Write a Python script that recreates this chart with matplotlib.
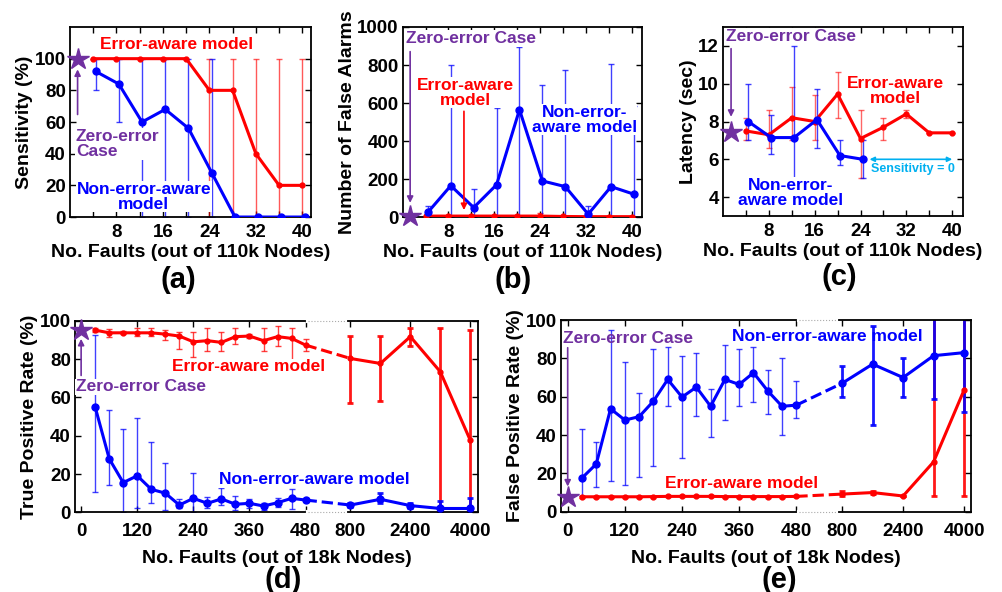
import numpy as np
import matplotlib.pyplot as plt

plt.rcParams['font.family'] = ['Liberation Sans', 'DejaVu Sans']
plt.rcParams['font.weight'] = 'bold'
plt.rcParams['axes.labelweight'] = 'bold'

RED = '#ff0000'
BLUE = '#0000ff'
PURPLE = '#7030a0'
CYAN = '#00b0f0'

# ---- 110k node runs (a)-(c) ----
faults_110k = [4, 8, 12, 16, 20, 24, 28, 32, 36, 40]

sens_aware = [100, 100, 100, 100, 100, 80, 80, 40, 20, 20]
sens_aware_lo = [100, 100, 100, 100, 100, 0, 0, 0, 0, 0]
sens_aware_hi = [100, 100, 100, 100, 100, 100, 100, 100, 100, 100]
sens_naive = [92, 84, 60, 68, 56, 28, 0, 0, 0, 0]
sens_naive_lo = [80, 60, 0, 0, 0, 0, 0, 0, 0, 0]
sens_naive_hi = [100, 100, 100, 100, 100, 100, 0, 0, 0, 0]

fa_aware = [5, 5, 5, 5, 5, 5, 3, 2, 2, 2]
fa_aware_lo = [0, 0, 0, 0, 0, 0, 0, 0, 0, 0]
fa_aware_hi = [8, 8, 8, 8, 8, 20, 5, 3, 3, 3]
fa_naive = [25, 165, 50, 170, 565, 190, 160, 15, 160, 120]
fa_naive_lo = [0, 0, 0, 0, 0, 0, 0, 0, 0, 0]
fa_naive_hi = [60, 800, 145, 575, 895, 695, 775, 60, 805, 585]

lat_aware = [7.5, 7.3, 8.2, 8.0, 9.45, 7.1, 7.7, 8.4, 7.4, 7.4]
lat_aware_lo = [7.0, 6.6, 7.0, 7.0, 8.2, 5.0, 7.0, 8.2, 7.4, 7.4]
lat_aware_hi = [8.2, 8.6, 9.8, 9.4, 10.6, 8.6, 8.2, 8.6, 7.4, 7.4]
faults_lat_naive = [4, 8, 12, 16, 20, 24]
lat_naive = [8.0, 7.15, 7.15, 8.1, 6.2, 6.0]
lat_naive_lo = [7.0, 6.3, 5.0, 6.6, 5.7, 5.0]
lat_naive_hi = [10.0, 8.35, 12.0, 9.7, 7.0, 7.0]
lat_zero = 7.45

# ---- 18k node runs (d)-(e) ----
faults_18k = [30, 60, 90, 120, 150, 180, 210, 240, 270, 300, 330, 360, 390,
              420, 450, 480, 800, 1600, 2400, 3200, 4000]

tpr_aware = [95.1, 93.7, 93.7, 93.7, 93.7, 93, 92, 89, 89.6, 88.7, 91.7, 92,
             89.6, 91.7, 90.8, 87.3, 80.3, 77.7, 91.7, 73.4, 37.7]
tpr_aware_lo = [94, 91.5, 93, 92, 92, 90, 85, 81, 84, 84, 88, 91, 84, 87,
                78, 84, 57, 58, 87, 0, 0]
tpr_aware_hi = [96, 95.5, 94.5, 96, 96, 95, 94, 94, 96, 94, 96, 93, 96, 97,
                96, 90.5, 92, 92, 96, 96, 95]
tpr_naive = [55, 28, 15.5, 19.1, 12, 10, 3.8, 7.3, 4.7, 7, 4.2, 4.7, 3.3, 5,
             7.3, 6.4, 3.8, 6.8, 3.5, 2, 2]
tpr_naive_lo = [10.7, 14, 0, 2, 5, 1, 2, 0, 2, 4, 1, 2, 1, 3, 1.5, 5.5, 3,
                5, 2, 0, 0]
tpr_naive_hi = [92.5, 53.5, 43.5, 49, 36.5, 26, 7, 20.5, 8, 12.5, 8.5, 7, 5,
                7.5, 12, 7.5, 5, 10, 5, 6, 7.5]
tpr_zero = 95

fpr_aware = [7.8, 7.8, 7.8, 7.8, 7.8, 7.9, 8, 8, 8, 8, 7.9, 7.9, 7.9, 7.9,
             7.9, 8, 9.2, 10, 8.2, 26, 63.5]
fpr_aware_lo = [7.3, 7.3, 7.3, 7.3, 7.3, 7.4, 7.5, 7.5, 7.5, 7.5, 7.4, 7.4,
                7.4, 7.4, 7.4, 7.5, 8, 9, 8, 8, 8]
fpr_aware_hi = [8.3, 8.3, 8.3, 8.3, 8.3, 8.4, 8.5, 8.5, 8.5, 8.5, 8.4, 8.4,
                8.4, 8.4, 8.4, 8.5, 11, 11, 8.4, 110, 110]
fpr_naive = [17.6, 24.9, 53.7, 47.8, 49.6, 57.7, 69, 59.8, 65, 55, 69, 66.4,
             72.5, 63, 55, 55.6, 67, 77, 70, 81.4, 83]
fpr_naive_lo = [8, 13, 16, 14, 18, 24, 55, 28, 50, 39, 48, 55, 57, 51, 40,
                49, 60, 45, 60, 59, 52]
fpr_naive_hi = [43, 36.5, 95, 78, 62, 85, 86, 81, 83, 64, 87, 85, 86, 74, 80,
                68, 76, 97, 80, 110, 110]
fpr_zero = 7.5

# broken x axis: linear up to 480, then 800..4000 squeezed
brk_x = [-1000, 0, 480, 800, 4000, 8000]
brk_p = [-1000, 0, 480, 576, 832, 1152]

TICK_FS = 13.5
LABEL_FS = 14
NOTE_FS = 12.5


def fwd(x):
    return np.interp(x, brk_x, brk_p)


def inv(p):
    return np.interp(p, brk_p, brk_x)


def bars(ax, x, y, lo, hi, color, lw=1.0, cap=2.5, alpha=0.75):
    y = np.asarray(y, float)
    err = [y - np.asarray(lo, float), np.asarray(hi, float) - y]
    ax.errorbar(x, y, yerr=err, fmt='none', ecolor=color, elinewidth=lw,
                capsize=cap, capthick=lw, alpha=alpha, zorder=2)


def style(ax, xpad=4):
    ax.tick_params(direction='in', length=4, width=1, top=True, right=True,
                   labelsize=TICK_FS, pad=3)
    ax.tick_params(axis='x', pad=xpad)
    for s in ax.spines.values():
        s.set_linewidth(1.3)
    for lab in ax.get_xticklabels() + ax.get_yticklabels():
        lab.set_fontweight('bold')


def star(ax, x, y):
    ax.plot([x], [y], marker='*', ms=16, color=PURPLE, mec=PURPLE,
            clip_on=False, zorder=5)


def arrow(ax, x0, y0, x1, y1, color):
    ax.annotate('', xy=(x1, y1), xytext=(x0, y0),
                arrowprops=dict(arrowstyle='-|>', color=color, lw=1.2,
                                mutation_scale=9), zorder=4)


def label(ax, x, y, s, color, ha='center', box=True, size=NOTE_FS):
    kw = dict(color=color, ha=ha, va='center', fontsize=size,
              fontweight='bold', linespacing=1.0, zorder=6)
    if box:
        kw['bbox'] = dict(facecolor='white', edgecolor='none', pad=0.5)
    ax.text(x, y, s, **kw)


fig = plt.figure(figsize=(10.02, 5.92), dpi=100)

ax_a = fig.add_axes([0.0699, 0.6334, 0.2405, 0.321])
ax_b = fig.add_axes([0.4019, 0.6334, 0.2388, 0.321])
ax_c = fig.add_axes([0.7216, 0.6351, 0.2395, 0.3193])
ax_d = fig.add_axes([0.0749, 0.1346, 0.4022, 0.3236])
ax_e = fig.add_axes([0.5599, 0.1356, 0.4089, 0.3238])

xa = np.array(faults_110k)
off = 0.4

# (a) sensitivity
ax = ax_a
bars(ax, xa, sens_aware, sens_aware_lo, sens_aware_hi, RED, alpha=0.65)
bars(ax, xa + off, sens_naive, sens_naive_lo, sens_naive_hi, BLUE)
ax.plot(xa, sens_aware, '-o', color=RED, lw=2.2, ms=3.5, zorder=3)
ax.plot(xa + off, sens_naive, '-o', color=BLUE, lw=2.2, ms=5, zorder=3)
star(ax, 1.3, 100)
arrow(ax, 1.3, 63, 1.3, 95, PURPLE)
label(ax, 18.4, 108.7, 'Error-aware model', RED)
label(ax, 1.0, 46, 'Zero-error\nCase', PURPLE, ha='left')
label(ax, 12.7, 12.8, 'Non-error-aware\nmodel', BLUE)
ax.set_xlim(0, 41.5)
ax.set_ylim(0, 120)
ax.set_yticks([0, 20, 40, 60, 80, 100])
ax.set_ylabel('Sensitivity (%)', fontsize=LABEL_FS, labelpad=1)

# (b) false alarms
ax = ax_b
bars(ax, xa, fa_aware, fa_aware_lo, fa_aware_hi, RED)
bars(ax, xa + off, fa_naive, fa_naive_lo, fa_naive_hi, BLUE)
ax.plot(xa, fa_aware, '-o', color=RED, lw=2.2, ms=3.5, zorder=3)
ax.plot(xa + off, fa_naive, '-o', color=BLUE, lw=2.2, ms=5, zorder=3)
star(ax, 1.3, 5)
arrow(ax, 1.3, 885, 1.3, 60, PURPLE)
arrow(ax, 10.7, 571, 10.7, 22, RED)
label(ax, 0.6, 939, 'Zero-error Case', PURPLE, ha='left')
label(ax, 10.9, 655, 'Error-aware\nmodel', RED)
label(ax, 31.7, 513, 'Non-error-\naware model', BLUE)
ax.set_xlim(0, 41.8)
ax.set_ylim(0, 1000)
ax.set_yticks([0, 200, 400, 600, 800, 1000])
ax.set_ylabel('Number of False Alarms', fontsize=LABEL_FS, labelpad=1)

# (c) latency
ax = ax_c
xl = np.array(faults_lat_naive)
bars(ax, xa, lat_aware, lat_aware_lo, lat_aware_hi, RED, alpha=0.6)
bars(ax, xl + off, lat_naive, lat_naive_lo, lat_naive_hi, BLUE)
ax.plot(xa, lat_aware, '-o', color=RED, lw=2.2, ms=3.5, zorder=3)
ax.plot(xl + off, lat_naive, '-o', color=BLUE, lw=2.2, ms=5, zorder=3)
star(ax, 1.4, lat_zero)
arrow(ax, 1.4, 12.0, 1.4, 8.1, PURPLE)
ax.annotate('', xy=(40.5, 6.0), xytext=(25.1, 6.0),
            arrowprops=dict(arrowstyle='<|-|>', color=CYAN, lw=1.2,
                            mutation_scale=7))
label(ax, 33.2, 5.5, 'Sensitivity = 0', CYAN, box=False, size=9)
label(ax, 0.6, 12.5, 'Zero-error Case', PURPLE, ha='left')
label(ax, 30.1, 9.6, 'Error-aware\nmodel', RED)
label(ax, 11.8, 4.22, 'Non-error-\naware model', BLUE)
ax.set_xlim(0, 41.9)
ax.set_ylim(3, 13)
ax.set_yticks([4, 6, 8, 10, 12])
ax.set_ylabel('Latency (sec)', fontsize=LABEL_FS, labelpad=1)

for ax in (ax_a, ax_b, ax_c):
    ax.set_xticks(faults_110k)
    ax.set_xticklabels([str(v) if v % 8 == 0 else '' for v in faults_110k])
    ax.set_xlabel('No. Faults (out of 110k Nodes)', fontsize=LABEL_FS,
                  labelpad=2)
    style(ax, xpad=5)

# (d)/(e) with the broken axis
xs = np.array(faults_18k)
n_lin = 16


def broken_series(ax, y, lo, hi, color, ms, dx=0.0):
    y = np.asarray(y, float)
    lo = np.asarray(lo, float)
    hi = np.asarray(hi, float)
    x = xs + dx
    bars(ax, x[:n_lin], y[:n_lin], lo[:n_lin], hi[:n_lin], color, lw=1.0)
    bars(ax, x[n_lin:], y[n_lin:], lo[n_lin:], hi[n_lin:], color, lw=2.0,
         cap=2, alpha=0.9)
    ax.plot(x[:n_lin], y[:n_lin], '-o', color=color, lw=2.2, ms=ms, zorder=3)
    ax.plot(x[n_lin:], y[n_lin:], '-o', color=color, lw=2.2, ms=ms, zorder=3)
    ax.plot(x[n_lin - 1:n_lin + 1], y[n_lin - 1:n_lin + 1], '--', color=color,
            lw=2.2, zorder=3)


def gap(ax):
    tr = ax.get_xaxis_transform()
    for yy in (0, 1):
        ax.plot([500, 760], [yy, yy], color='white', lw=3, transform=tr,
                clip_on=False, zorder=7)
        ax.plot([500, 760], [yy, yy], color='#aaaaaa', lw=0.8, ls=':',
                transform=tr, clip_on=False, zorder=8)


ax = ax_d
ax.set_xscale('function', functions=(fwd, inv))
broken_series(ax, tpr_aware, tpr_aware_lo, tpr_aware_hi, RED, 3.5)
broken_series(ax, tpr_naive, tpr_naive_lo, tpr_naive_hi, BLUE, 5)
star(ax, 0, tpr_zero)
arrow(ax, 0, 70, 0, 92, PURPLE)
label(ax, -10.7, 65.5, 'Zero-error Case', PURPLE, ha='left')
label(ax, 358, 76, 'Error-aware model', RED)
label(ax, 543, 16.9, 'Non-error-aware model', BLUE)
ax.set_xlim(-13, 4210)
ax.set_ylabel('True Positive Rate (%)', fontsize=LABEL_FS, labelpad=1)

ax = ax_e
ax.set_xscale('function', functions=(fwd, inv))
broken_series(ax, fpr_aware, fpr_aware_lo, fpr_aware_hi, RED, 3.5)
broken_series(ax, fpr_naive, fpr_naive_lo, fpr_naive_hi, BLUE, 5)
star(ax, 0, fpr_zero)
arrow(ax, 0, 87, 0, 11.7, PURPLE)
label(ax, -9.2, 90.4, 'Zero-error Case', PURPLE, ha='left', box=False)
label(ax, 695, 91.3, 'Non-error-aware model', BLUE, box=False)
label(ax, 366, 14.8, 'Error-aware model', RED, box=False)
ax.set_xlim(-14, 4175)
ax.set_ylabel('False Positive Rate (%)', fontsize=LABEL_FS, labelpad=1)

for ax in (ax_d, ax_e):
    ax.set_ylim(0, 100)
    ax.set_yticks([0, 20, 40, 60, 80, 100])
    ax.set_xticks([0, 120, 240, 360, 480, 800, 2400, 4000])
    ax.set_xticklabels(['0', '120', '240', '360', '480', '800', '2400', '4000'])
    ax.xaxis.set_minor_locator(plt.NullLocator())
    ax.set_xlabel('No. Faults (out of 18k Nodes)', fontsize=LABEL_FS,
                  labelpad=7)
    style(ax, xpad=8)
    gap(ax)

for s, x, y in [('(a)', 0.1776, 0.527), ('(b)', 0.512, 0.527),
                ('(c)', 0.838, 0.532), ('(d)', 0.2824, 0.0203),
                ('(e)', 0.778, 0.0203)]:
    fig.text(x, y, s, ha='center', va='center', fontsize=21,
             fontweight='bold')

fig.savefig('out.png', dpi=100)
